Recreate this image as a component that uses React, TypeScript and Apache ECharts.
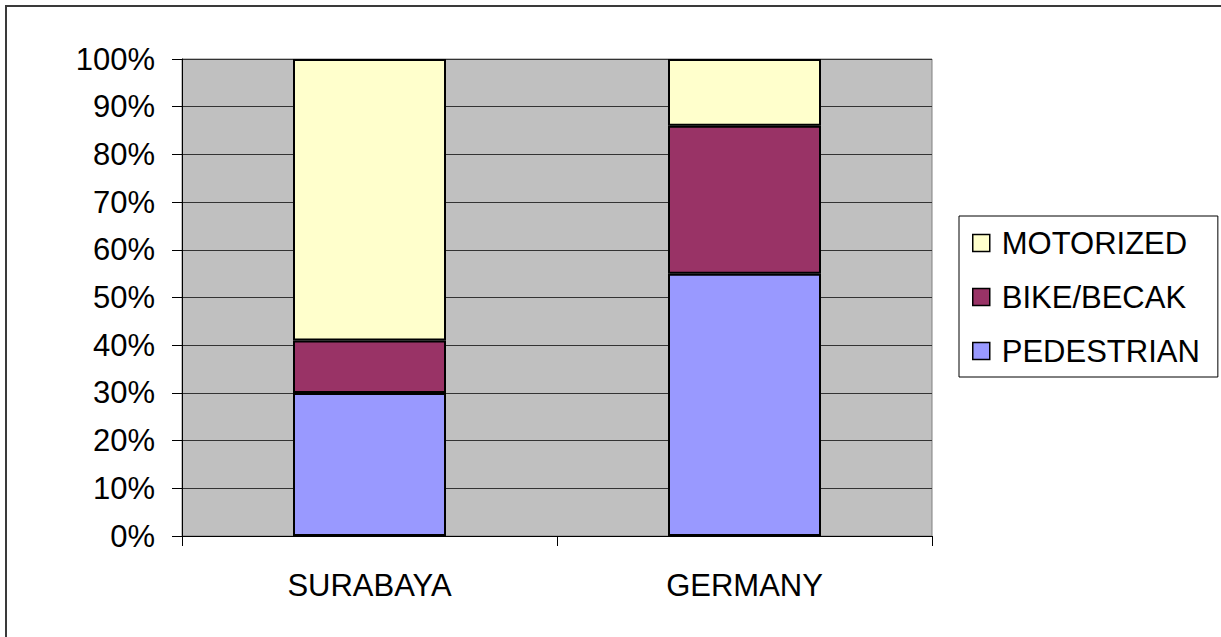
import React, { useEffect, useRef } from "react";
import * as echarts from "echarts";

const categories = ["SURABAYA", "GERMANY"];
const pedestrian = [30, 55];
const bike = [11, 31];
const motorized = [59, 14];
const legendOrder = ["MOTORIZED", "BIKE/BECAK", "PEDESTRIAN"];

export default function App() {
  const ref = useRef<HTMLDivElement>(null);
  useEffect(() => {
    if (!ref.current) return;
    const chart = echarts.init(ref.current, undefined, { renderer: "svg" });
    const font = "'Liberation Sans', Arial, sans-serif";
    const barStyle = (color: string) => ({
      color,
      borderColor: "#000",
      borderWidth: 2,
    });
    chart.setOption({
      animation: false,
      backgroundColor: "#fff",
      textStyle: { fontFamily: font },
      graphic: [
        {
          type: "rect",
          shape: { x: 6, y: 6, width: 1400, height: 800 },
          style: { fill: "none", stroke: "#3a3a3a", lineWidth: 2 },
          silent: true,
          z: -10,
        },
      ],
      grid: {
        left: 182,
        top: 59,
        right: 289,
        bottom: 101,
        show: true,
        backgroundColor: "#C0C0C0",
        borderColor: "#808080",
        borderWidth: 1,
      },
      legend: {
        data: legendOrder,
        orient: "vertical",
        left: 959,
        top: 216,
        padding: [10, 18, 9, 13],
        itemWidth: 17,
        itemHeight: 17,
        itemGap: 20,
        icon: "rect",
        backgroundColor: "#fff",
        borderColor: "#000",
        borderWidth: 1,
        itemStyle: { borderColor: "#000", borderWidth: 1.5 },
        textStyle: {
          fontFamily: font,
          fontSize: 31,
          color: "#000",
          lineHeight: 34,
          padding: [0, 0, 0, 7],
        },
      },
      xAxis: {
        type: "category",
        data: categories,
        boundaryGap: true,
        axisLine: { show: true, lineStyle: { color: "#000", width: 1 } },
        axisTick: { show: true, alignWithLabel: false, length: 10, lineStyle: { color: "#000" } },
        axisLabel: { fontFamily: font, fontSize: 31, color: "#000", margin: 34 },
        splitLine: { show: false },
      },
      yAxis: {
        type: "value",
        min: 0,
        max: 100,
        interval: 10,
        axisLine: { show: true, lineStyle: { color: "#000", width: 1 } },
        axisTick: { show: true, length: 10, lineStyle: { color: "#000" } },
        axisLabel: {
          fontFamily: font,
          fontSize: 31,
          color: "#000",
          margin: 27,
          formatter: "{value}%",
        },
        splitLine: { show: true, lineStyle: { color: "#333", width: 1 } },
      },
      series: [
        {
          name: "PEDESTRIAN",
          type: "bar",
          stack: "total",
          data: pedestrian,
          barWidth: 153,
          itemStyle: barStyle("#9999FF"),
        },
        {
          name: "BIKE/BECAK",
          type: "bar",
          stack: "total",
          data: bike,
          barWidth: 153,
          itemStyle: barStyle("#993366"),
        },
        {
          name: "MOTORIZED",
          type: "bar",
          stack: "total",
          data: motorized,
          barWidth: 153,
          itemStyle: barStyle("#FFFFCC"),
        },
      ],
    });
    return () => chart.dispose();
  }, []);
  return (
    <div
      ref={ref}
      style={{ position: "fixed", left: 0, top: 0, width: 1221, height: 637 }}
    />
  );
}
